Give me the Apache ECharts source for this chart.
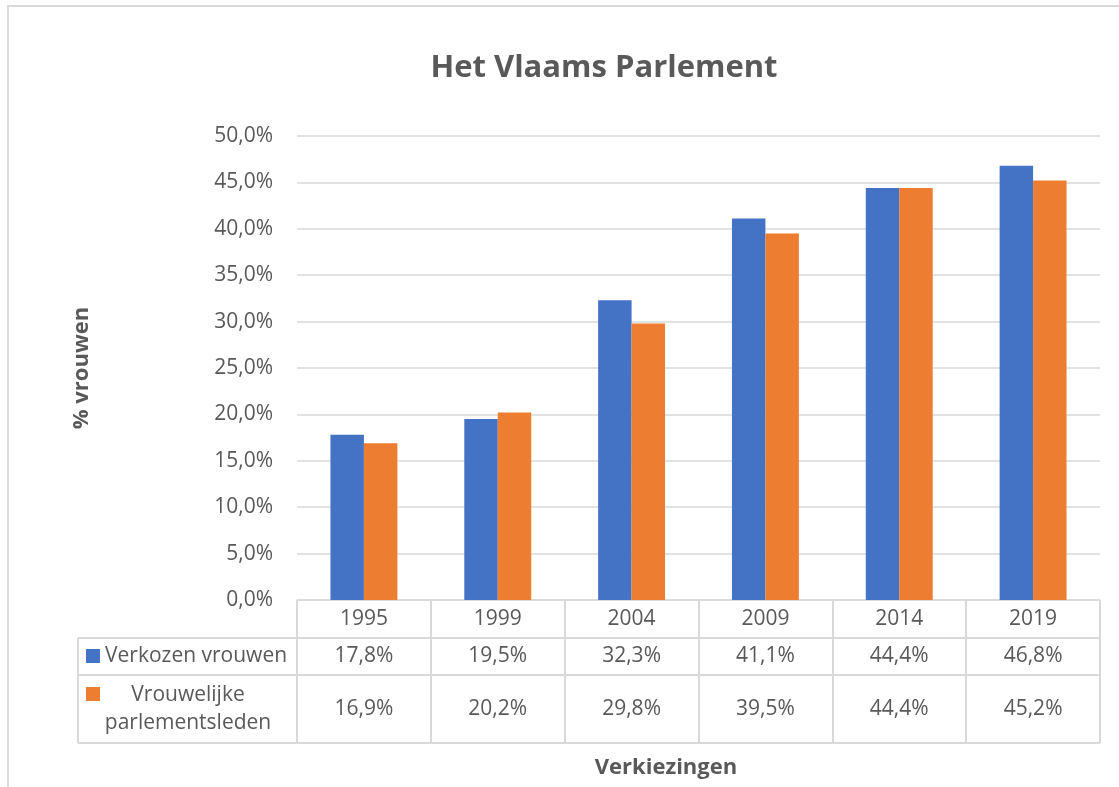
<!DOCTYPE html>
<html>
<head>
<meta charset="utf-8">
<title>Het Vlaams Parlement</title>
<script src="https://cdn.jsdelivr.net/npm/echarts@6/dist/echarts.min.js"></script>
<style>
    html, body { margin: 0; padding: 0; background: #fff; }
    #chart { width: 1119px; height: 787px; }
</style>
</head>
<body>
<div id="chart"></div>
<script>
    var years = ['1995', '1999', '2004', '2009', '2014', '2019'];
    var verkozen = [17.8, 19.5, 32.3, 41.1, 44.4, 46.8];
    var parlementsleden = [16.9, 20.2, 29.8, 39.5, 44.4, 45.2];
    var seriesNames = ['Verkozen vrouwen', 'Vrouwelijke\nparlementsleden'];
    var colors = ['#4472C4', '#ED7D31'];

    var font = 'Open Sans';
    var textColor = '#595959';
    var lineColor = '#d9d9d9';
    var fs = 21;

    function pct(v) {
        return v.toFixed(1).replace('.', ',') + '%';
    }

    // table rows (y positions) under the plot
    var tableLeft = 78, plotLeft = 297, plotRight = 1100;
    var row1 = 638, row2 = 675, tableBottom = 743;

    var chart = echarts.init(document.getElementById('chart'));

    var option = {
        animation: false,
        textStyle: { fontFamily: font, color: textColor },
        grid: { left: plotLeft, right: 1119 - plotRight, top: 136, bottom: 187, outerBoundsMode: 'none' },
        yAxis: {
            type: 'value',
            min: 0,
            max: 50,
            interval: 5,
            name: '% vrouwen',
            nameLocation: 'middle',
            nameGap: 204,
            nameTextStyle: { fontFamily: font, fontSize: 22, fontWeight: 'bold', color: textColor },
            axisLine: { show: false },
            axisTick: { show: false },
            axisLabel: { fontFamily: font, fontSize: fs, color: textColor, margin: 24, formatter: function (v) { return pct(v); } },
            splitLine: { lineStyle: { color: lineColor, width: 1.5 } }
        },
        xAxis: [
            {
                type: 'category',
                data: years,
                axisLine: { lineStyle: { color: lineColor, width: 1.5 } },
                axisTick: { show: true, interval: 0, length: tableBottom - 600, lineStyle: { color: lineColor, width: 2 } },
                axisLabel: { fontFamily: font, fontSize: fs, color: textColor, margin: 19, verticalAlign: 'middle' }
            },
            {
                type: 'category',
                data: years,
                position: 'bottom',
                offset: row1 - 600,
                axisLine: { show: false },
                axisTick: { show: false },
                axisLabel: {
                    fontFamily: font, fontSize: fs, color: textColor, margin: 18, verticalAlign: 'middle',
                    formatter: function (v, i) { return pct(verkozen[i]); }
                }
            },
            {
                type: 'category',
                data: years,
                position: 'bottom',
                offset: row2 - 600,
                axisLine: { show: false },
                axisTick: { show: false },
                axisLabel: {
                    fontFamily: font, fontSize: fs, color: textColor, margin: 34, verticalAlign: 'middle',
                    formatter: function (v, i) { return pct(parlementsleden[i]); }
                }
            }
        ],
        series: [
            {
                name: seriesNames[0],
                type: 'bar',
                data: verkozen,
                itemStyle: { color: colors[0] },
                barGap: '0%',
                barCategoryGap: '50%'
            },
            {
                name: seriesNames[1],
                type: 'bar',
                data: parlementsleden,
                itemStyle: { color: colors[1] }
            }
        ],
        graphic: [
            // outer chart frame
            { type: 'rect', shape: { x: 8, y: 6, width: 1300, height: 900 }, style: { fill: 'none', stroke: lineColor, lineWidth: 2 }, silent: true },
            // title and x axis name (centred on the whole chart/table, not the plot)
            { type: 'text', x: 604, y: 68, style: { text: 'Het Vlaams Parlement', font: 'bold 31px "' + font + '"', fill: textColor, textAlign: 'center', textVerticalAlign: 'middle' } },
            { type: 'text', x: 666, y: 768, style: { text: 'Verkiezingen', font: 'bold 22px "' + font + '"', fill: textColor, textAlign: 'center', textVerticalAlign: 'middle' } },
            // table lines
            { type: 'line', shape: { x1: tableLeft, y1: row1, x2: plotRight, y2: row1 }, style: { stroke: lineColor, lineWidth: 2 } },
            { type: 'line', shape: { x1: tableLeft, y1: row2, x2: plotRight, y2: row2 }, style: { stroke: lineColor, lineWidth: 2 } },
            { type: 'line', shape: { x1: tableLeft, y1: tableBottom, x2: plotRight, y2: tableBottom }, style: { stroke: lineColor, lineWidth: 2 } },
            { type: 'line', shape: { x1: tableLeft, y1: row1, x2: tableLeft, y2: tableBottom }, style: { stroke: lineColor, lineWidth: 2 } },
            // legend keys inside the table
            { type: 'rect', shape: { x: 86, y: 649, width: 14, height: 14 }, style: { fill: colors[0] } },
            { type: 'text', x: 105, y: 656, style: { text: seriesNames[0], font: fs + 'px "' + font + '"', fill: textColor, textAlign: 'left', textVerticalAlign: 'middle' } },
            { type: 'rect', shape: { x: 86, y: 687, width: 14, height: 14 }, style: { fill: colors[1] } },
            { type: 'text', x: 188, y: 709, style: { text: seriesNames[1], font: fs + 'px "' + font + '"', fill: textColor, textAlign: 'center', textVerticalAlign: 'middle', lineHeight: 28 } }
        ]
    };

    chart.setOption(option);
</script>
</body>
</html>
